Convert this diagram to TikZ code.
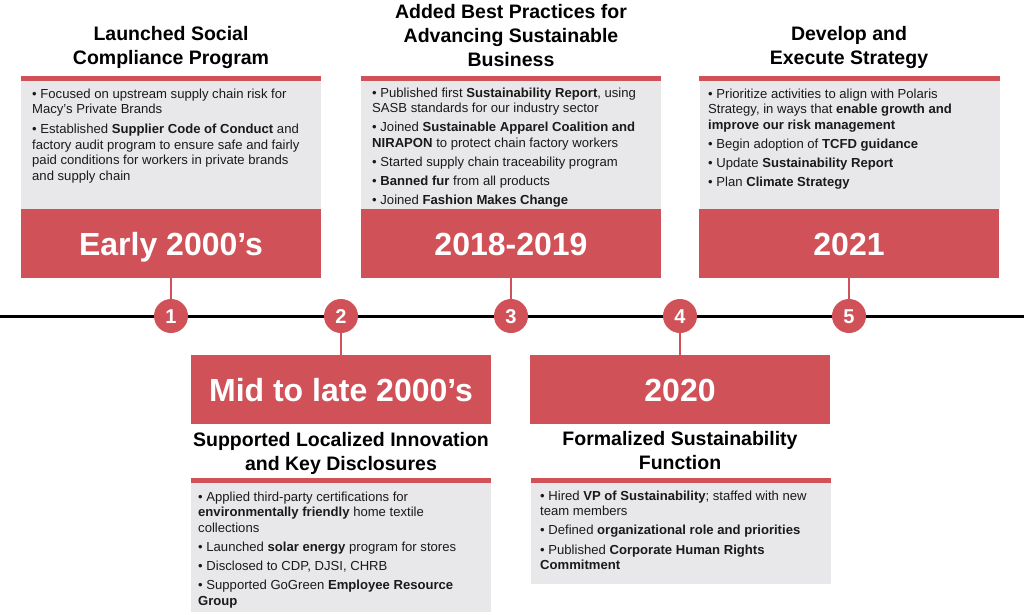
\documentclass[tikz,border=0pt]{standalone}
\usepackage{fontspec}
\setmainfont{Liberation Sans}
\definecolor{mred}{HTML}{D15158}
\definecolor{mgrey}{HTML}{E8E8EA}
\definecolor{mtext}{HTML}{1A1A1A}
\tikzset{
  datebox/.style={fill=mred, draw=none, text=white, minimum width=300pt, minimum height=69pt,
    inner sep=0pt, text height=23pt, text depth=0pt, font=\fontsize{32}{36}\selectfont\bfseries},
  panel/.style={fill=mgrey, draw=none, minimum width=300pt, inner sep=0pt},
  stripe/.style={fill=mred, draw=none},
  ttl/.style={align=center, font=\fontsize{19.5}{24}\selectfont\bfseries, text=black, inner sep=0pt},
  body/.style={align=left, anchor=north west, font=\fontsize{13.1}{15.6}\selectfont, text=mtext, inner sep=0pt},
  num/.style={circle, fill=mred, draw=none, text=white, minimum size=34pt, inner sep=0pt,
    text height=14.4pt, text depth=0pt, font=\fontsize{20}{24}\selectfont\bfseries},
  conn/.style={draw=mred, line width=2pt},
  tline/.style={draw=black, line width=3pt}
}
\begin{document}
\begin{tikzpicture}[x=1pt,y=-1pt]
\useasboundingbox (0,0) rectangle (1024,614);
% timeline
\coordinate (tlL) at (0,316);
\coordinate (tlR) at (1024,316);
\draw[tline] (tlL) -- (tlR);

% top panels
\node[panel, minimum height=133pt] (p1) at (171,142.5) {};
\node[panel, minimum height=133pt] (p3) at (511,142.5) {};
\node[panel, minimum height=133pt] (p5) at (849.5,142.5) {};
\foreach \p in {p1,p3,p5}{\fill[stripe] (\p.north west) rectangle ([yshift=-5pt]\p.north east);}

% bottom panels
\node[panel, minimum height=134pt] (p2) at (341,545) {};
\node[panel, minimum height=106pt] (p4) at (681,531) {};
\foreach \p in {p2,p4}{\fill[stripe] (\p.north west) rectangle ([yshift=-5pt]\p.north east);}

% date boxes
\node[datebox] (d1) at (171,243.5) {Early 2000’s};
\node[datebox] (d3) at (511,243.5) {2018-2019};
\node[datebox] (d5) at (849,243.5) {2021};
\node[datebox] (d2) at (341,389.5) {Mid to late 2000’s};
\node[datebox] (d4) at (680,389.5) {2020};

% circles
\node[num] (c1) at (171,316) {1};
\node[num] (c2) at (341,316) {2};
\node[num] (c3) at (511,316) {3};
\node[num] (c4) at (680,316) {4};
\node[num] (c5) at (849,316) {5};

% connectors
\draw[conn] (d1.south) -- (c1.north);
\draw[conn] (d3.south) -- (c3.north);
\draw[conn] (d5.south) -- (c5.north);
\draw[conn] (c2.south) -- (d2.north);
\draw[conn] (c4.south) -- (d4.north);

% titles
\node[ttl] (t1) at (171,47) {Launched Social\\Compliance Program};
\node[ttl] (t3) at (511,35.5) {Added Best Practices for\\Advancing Sustainable\\Business};
\node[ttl] (t5) at (849,47) {Develop and\\Execute Strategy};
\node[ttl] (t2) at (341,453.5) {Supported Localized Innovation\\and Key Disclosures};
\node[ttl] (t4) at (680,450.5) {Formalized Sustainability\\Function};

% bodies
\node[body] (b1) at (32,88.5) {• Focused on upstream supply chain risk for\\
Macy’s Private Brands\\[4pt]
• Established \textbf{Supplier Code of Conduct} and\\
factory audit program to ensure safe and fairly\\
paid conditions for workers in private brands\\
and supply chain};

\node[body] (b3) at (372,87.5) {• Published first \textbf{Sustainability Report}, using\\
SASB standards for our industry sector\\[3.5pt]
• Joined \textbf{Sustainable Apparel Coalition and}\\
\textbf{NIRAPON} to protect chain factory workers\\[3.5pt]
• Started supply chain traceability program\\[3.5pt]
• \textbf{Banned fur} from all products\\[3.5pt]
• Joined \textbf{Fashion Makes Change}};

\node[body] (b5) at (708,88.5) {• Prioritize activities to align with Polaris\\
Strategy, in ways that \textbf{enable growth and}\\
\textbf{improve our risk management}\\[3.5pt]
• Begin adoption of \textbf{TCFD guidance}\\[3.5pt]
• Update \textbf{Sustainability Report}\\[3.5pt]
• Plan \textbf{Climate Strategy}};

\node[body] (b2) at (198,491.5) {• Applied third-party certifications for\\
\textbf{environmentally friendly} home textile\\
collections\\[3.5pt]
• Launched \textbf{solar energy} program for stores\\[3.5pt]
• Disclosed to CDP, DJSI, CHRB\\[3.5pt]
• Supported GoGreen \textbf{Employee Resource}\\
\textbf{Group}};

\node[body] (b4) at (540,490.5) {• Hired \textbf{VP of Sustainability}; staffed with new\\
team members\\[3.5pt]
• Defined \textbf{organizational role and priorities}\\[3.5pt]
• Published \textbf{Corporate Human Rights}\\
\textbf{Commitment}};
\end{tikzpicture}
\end{document}
